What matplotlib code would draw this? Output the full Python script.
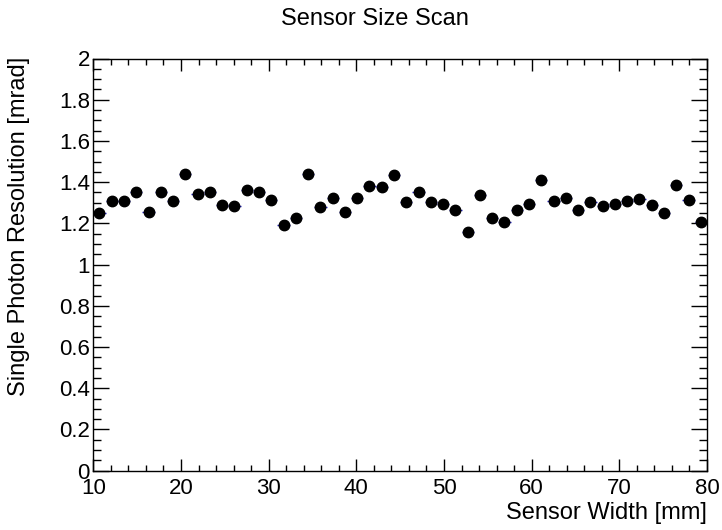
import matplotlib
matplotlib.use("Agg")
import matplotlib.pyplot as plt
from matplotlib.ticker import MultipleLocator

# Sensor width bin centres [mm] (bins of 1.4 mm from 10 to 80)
sensor_width = [10.7, 12.1, 13.5, 14.9, 16.3, 17.7, 19.1, 20.5, 21.9, 23.3,
                24.7, 26.1, 27.5, 28.9, 30.3, 31.7, 33.1, 34.5, 35.9, 37.3,
                38.7, 40.1, 41.5, 42.9, 44.3, 45.7, 47.1, 48.5, 49.9, 51.3,
                52.7, 54.1, 55.5, 56.9, 58.3, 59.7, 61.1, 62.5, 63.9, 65.3,
                66.7, 68.1, 69.5, 70.9, 72.3, 73.7, 75.1, 76.5, 77.9, 79.3]
width_err = [0.7] * len(sensor_width)

# single photon resolution [mrad]
resolution = [1.250, 1.307, 1.307, 1.352, 1.257, 1.352, 1.307, 1.440, 1.343, 1.352,
              1.291, 1.284, 1.364, 1.352, 1.314, 1.194, 1.228, 1.440, 1.280, 1.325,
              1.257, 1.325, 1.383, 1.377, 1.433, 1.302, 1.352, 1.302, 1.296, 1.266,
              1.160, 1.336, 1.228, 1.205, 1.266, 1.296, 1.411, 1.307, 1.325, 1.266,
              1.302, 1.284, 1.292, 1.307, 1.318, 1.291, 1.250, 1.388, 1.314, 1.205]

plt.rcParams['font.family'] = ['Liberation Sans', 'DejaVu Sans']

fig = plt.figure(figsize=(7.22, 5.30), dpi=100)
ax = fig.add_axes([93.3 / 722, 1 - 470.7 / 530, (707 - 93.3) / 722, (470.7 - 58.5) / 530])

ax.errorbar(sensor_width, resolution, xerr=width_err, fmt='o', color='black',
            ecolor='#2020c0', elinewidth=1, markersize=7.5, capsize=0)

ax.set_xlim(10, 80)
ax.set_ylim(0, 2)
ax.xaxis.set_major_locator(MultipleLocator(10))
ax.xaxis.set_minor_locator(MultipleLocator(2))
ax.yaxis.set_major_locator(MultipleLocator(0.2))
ax.yaxis.set_minor_locator(MultipleLocator(0.05))
ax.yaxis.set_major_formatter(plt.FuncFormatter(lambda v, p: f"{v:g}"))

ax.tick_params(which='both', direction='in', top=True, right=True, width=1, labelsize=16)
ax.tick_params(axis='x', which='major', length=8.6, pad=5)
ax.tick_params(axis='x', which='minor', length=4.3)
ax.tick_params(axis='y', which='major', length=11.5, pad=2.5)
ax.tick_params(axis='y', which='minor', length=5.8)
for s in ax.spines.values():
    s.set_linewidth(1)

fig.text(375 / 722, 1 - 19 / 530, "Sensor Size Scan", ha='center', va='center', fontsize=17)
fig.text(707 / 722, 1 - 513 / 530, "Sensor Width [mm]", ha='right', va='center', fontsize=17)
fig.text(19 / 722, 1 - 57 / 530, "Single Photon Resolution [mrad]", ha='center', va='top',
         rotation=90, fontsize=17)

fig.savefig("out.png", dpi=100)
